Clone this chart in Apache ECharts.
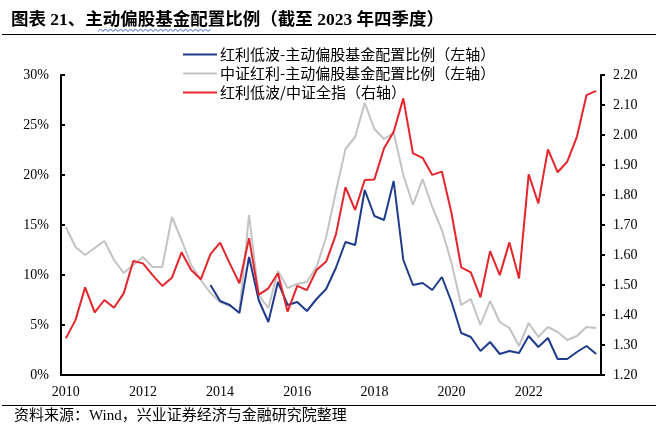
<!DOCTYPE html>
<html>
<head>
<meta charset="utf-8">
<script src="https://cdn.jsdelivr.net/npm/echarts@6/dist/echarts.min.js"></script>
<style>
html,body{margin:0;padding:0;background:#fff;}
#chart{width:664px;height:434px;}
</style>
</head>
<body>
<div id="chart"></div>
<script>
// Quarterly categories (2010Q1 .. 2023Q4)
const categories = [
 '2010Q1','2010Q2','2010Q3','2010Q4','2011Q1','2011Q2','2011Q3','2011Q4',
 '2012Q1','2012Q2','2012Q3','2012Q4','2013Q1','2013Q2','2013Q3','2013Q4',
 '2014Q1','2014Q2','2014Q3','2014Q4','2015Q1','2015Q2','2015Q3','2015Q4',
 '2016Q1','2016Q2','2016Q3','2016Q4','2017Q1','2017Q2','2017Q3','2017Q4',
 '2018Q1','2018Q2','2018Q3','2018Q4','2019Q1','2019Q2','2019Q3','2019Q4',
 '2020Q1','2020Q2','2020Q3','2020Q4','2021Q1','2021Q2','2021Q3','2021Q4',
 '2022Q1','2022Q2','2022Q3','2022Q4','2023Q1','2023Q2','2023Q3','2023Q4'
];
// 红利低波-主动偏股基金配置比例 (%), left axis
const lowVolShare = [
 null,null,null,null,null,null,null,null,null,null,null,null,null,null,null,
 9.0,7.4,7.0,6.2,11.8,7.5,5.3,9.3,7.0,7.3,6.4,7.6,8.6,10.7,13.3,
 13.0,18.5,15.9,15.5,19.4,11.5,9.0,9.2,8.5,9.8,7.3,4.2,3.8,2.4,3.3,
 2.1,2.4,2.2,3.9,2.8,3.7,1.6,1.6,2.3,2.9,2.1
];
// 中证红利-主动偏股基金配置比例 (%), left axis
const dividendShare = [
 14.8,12.8,12.0,12.7,13.4,11.5,10.2,11.0,11.8,10.8,
 10.8,15.8,13.5,11.0,9.5,8.2,7.3,6.9,6.3,16.0,
 8.0,6.7,10.4,8.7,9.1,9.3,10.8,13.8,18.3,22.6,
 23.8,27.2,24.6,23.6,24.2,20.0,17.0,19.6,16.8,14.5,
 11.2,7.0,7.6,5.0,7.4,5.3,4.7,2.9,5.2,3.8,
 4.8,4.3,3.5,3.9,4.8,4.7
];
// 红利低波/中证全指, right axis
const relRatio = [
 1.322,1.383,1.492,1.409,1.450,1.424,1.472,1.580,1.572,1.533,
 1.497,1.524,1.609,1.550,1.519,1.603,1.641,1.572,1.506,1.656,
 1.467,1.489,1.539,1.411,1.497,1.483,1.550,1.578,1.667,1.826,
 1.750,1.850,1.852,1.956,2.011,2.122,1.939,1.924,1.867,1.878,
 1.739,1.559,1.542,1.459,1.613,1.533,1.642,1.522,1.869,1.772,
 1.952,1.876,1.911,1.994,2.133,2.147
];
const seriesNames = [
 '红利低波-主动偏股基金配置比例（左轴）',
 '中证红利-主动偏股基金配置比例（左轴）',
 '红利低波/中证全指（右轴）'
];
const leftTicks = {min:0, max:30, interval:5};
const rightTicks = {min:1.2, max:2.2, interval:0.1};

const serif = 'Liberation Serif, "Noto Sans CJK SC", serif';
const cjk = '"Noto Sans CJK SC", sans-serif';
const BLUE = '#1f3b8c', GREY = '#c3c3c3', RED = '#e3262b';

// wavy spell-check underline under the title words
const wave = [];
for (let x = 98, k = 0; x <= 212; x += 2.5, k++) wave.push([x, k % 2 ? 29 : 31.5]);

const chart = echarts.init(document.getElementById('chart'), null, {renderer:'canvas'});
chart.setOption({
  animation:false,
  backgroundColor:'#fff',
  title:{
    text:'图表 21、主动偏股基金配置比例（截至 2023 年四季度）',
    left:6, top:7,
    textStyle:{fontFamily:serif, fontSize:17.5, fontWeight:'bold', color:'#000'}
  },
  graphic:[
    {type:'line', shape:{x1:2,y1:34.5,x2:656,y2:34.5}, style:{stroke:'#000',lineWidth:1}},
    {type:'polyline', shape:{points:wave}, style:{stroke:'#3b5bd6',lineWidth:1,fill:null}},
    {type:'line', shape:{x1:2,y1:405.5,x2:656,y2:405.5}, style:{stroke:'#000',lineWidth:1}},
    {type:'text', left:14, top:409, style:{text:'资料来源：Wind，兴业证券经济与金融研究院整理', font:'15px '+serif, fill:'#000'}}
  ],
  legend:{
    orient:'vertical', left:178, top:42,
    itemWidth:34, itemHeight:2, itemGap:4,
    icon:'rect',
    data:seriesNames,
    textStyle:{fontFamily:cjk, fontSize:15, color:'#000', padding:[0,0,0,-2]}
  },
  grid:{left:61, right:63, top:75, bottom:59, containLabel:false},
  xAxis:{
    type:'category', data:categories, boundaryGap:true,
    axisLine:{lineStyle:{color:'#000', width:2}},
    axisTick:{show:false},
    axisLabel:{interval:7, margin:10, color:'#000', fontFamily:serif, fontSize:14,
      formatter:v=>v.slice(0,4)}
  },
  yAxis:[
    {type:'value', min:leftTicks.min, max:leftTicks.max, interval:leftTicks.interval, position:'left',
     splitLine:{show:false},
     axisLine:{show:true, lineStyle:{color:'#000', width:2}},
     axisTick:{show:true, inside:true, length:4, lineStyle:{color:'#000', width:2}},
     axisLabel:{formatter:'{value}%', color:'#000', fontFamily:serif, fontSize:14, margin:12}},
    {type:'value', min:rightTicks.min, max:rightTicks.max, interval:rightTicks.interval, position:'right',
     splitLine:{show:false},
     axisLine:{show:true, lineStyle:{color:'#000', width:2}},
     axisTick:{show:true, inside:false, length:4, lineStyle:{color:'#000', width:2}},
     axisLabel:{formatter:v=>v.toFixed(2), color:'#000', fontFamily:serif, fontSize:14, margin:12}}
  ],
  series:[
    {name:seriesNames[1], type:'line', yAxisIndex:0, data:dividendShare, symbol:'none',
     lineStyle:{color:GREY, width:2}, itemStyle:{color:GREY}, z:2},
    {name:seriesNames[0], type:'line', yAxisIndex:0, data:lowVolShare, symbol:'none',
     lineStyle:{color:BLUE, width:2}, itemStyle:{color:BLUE}, z:3},
    {name:seriesNames[2], type:'line', yAxisIndex:1, data:relRatio, symbol:'none',
     lineStyle:{color:RED, width:2}, itemStyle:{color:RED}, z:4}
  ]
});
</script>
</body>
</html>
